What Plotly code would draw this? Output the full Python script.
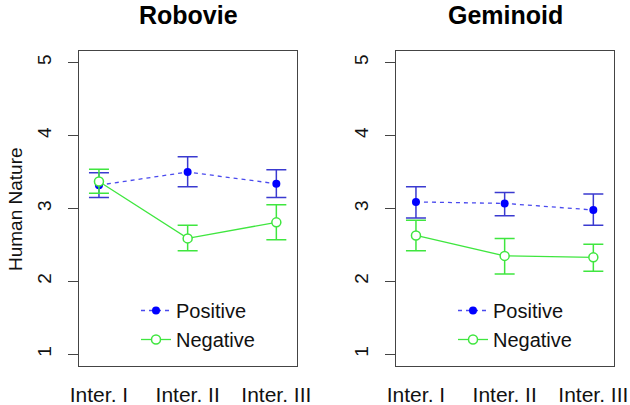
import plotly.graph_objects as go

categories = ["Inter. I", "Inter. II", "Inter. III"]
x_pos = [1, 2, 3]
y_ticks = [1, 2, 3, 4, 5]

panels = ["Robovie", "Geminoid"]
series_names = ["Positive", "Negative"]

robovie_pos = [3.32, 3.50, 3.34]
robovie_pos_hi = [3.49, 3.71, 3.53]
robovie_pos_lo = [3.15, 3.30, 3.15]
robovie_neg = [3.37, 2.59, 2.81]
robovie_neg_hi = [3.54, 2.77, 3.05]
robovie_neg_lo = [3.21, 2.42, 2.57]

geminoid_pos = [3.09, 3.07, 2.98]
geminoid_pos_hi = [3.30, 3.22, 3.20]
geminoid_pos_lo = [2.87, 2.90, 2.77]
geminoid_neg = [2.63, 2.35, 2.33]
geminoid_neg_hi = [2.84, 2.59, 2.51]
geminoid_neg_lo = [2.42, 2.10, 2.14]

W, H = 630, 405
BLUE = "#0000ff"
BLUE_ERR = "#3a3ad0"
BLUE_LINE = "#4a4aee"
GREEN = "#3fe63f"
FONT = "Liberation Sans, Arial, sans-serif"

fig = go.Figure()

data = [
    (robovie_pos, robovie_pos_hi, robovie_pos_lo, robovie_neg, robovie_neg_hi, robovie_neg_lo),
    (geminoid_pos, geminoid_pos_hi, geminoid_pos_lo, geminoid_neg, geminoid_neg_hi, geminoid_neg_lo),
]

for i, (pos, pos_hi, pos_lo, neg, neg_hi, neg_lo) in enumerate(data):
    xa = "x" if i == 0 else "x2"
    ya = "y" if i == 0 else "y2"
    lg = "legend" if i == 0 else "legend2"
    fig.add_trace(go.Scatter(
        x=x_pos, y=pos, xaxis=xa, yaxis=ya, legend=lg, name=series_names[0],
        mode="lines+markers",
        line=dict(color=BLUE_LINE, width=1.3, dash="4px,4px"),
        marker=dict(color=BLUE, size=8, symbol="circle", line=dict(width=0)),
        error_y=dict(type="data", symmetric=False,
                     array=[h - v for h, v in zip(pos_hi, pos)],
                     arrayminus=[v - l for v, l in zip(pos, pos_lo)],
                     color=BLUE_ERR, thickness=1.5, width=10),
    ))
    fig.add_trace(go.Scatter(
        x=x_pos, y=neg, xaxis=xa, yaxis=ya, legend=lg, name=series_names[1],
        mode="lines+markers",
        line=dict(color=GREEN, width=1.3),
        marker=dict(color="white", size=9, symbol="circle", line=dict(color=GREEN, width=1.5)),
        error_y=dict(type="data", symmetric=False,
                     array=[h - v for h, v in zip(neg_hi, neg)],
                     arrayminus=[v - l for v, l in zip(neg, neg_lo)],
                     color=GREEN, thickness=1.5, width=10),
    ))

def px_x(p):
    return p / W

def px_y(p):
    return 1 - p / H

xdoms = [[px_x(79), px_x(297)], [px_x(396), px_x(614)]]
ydom = [px_y(366), px_y(51)]

axis_common = dict(
    showline=True, mirror=True, linecolor="#444", linewidth=1,
    showgrid=False, zeroline=False, automargin=False,
)

for i in range(2):
    sfx = "" if i == 0 else "2"
    fig.update_layout(**{
        "xaxis" + sfx: dict(
            domain=xdoms[i], range=[0.775, 3.233], anchor="y" + sfx,
            tickmode="array", tickvals=x_pos, ticktext=categories,
            ticks="", ticklen=0, ticklabelstandoff=10,
            tickfont=dict(family=FONT, size=21, color="#111"),
            **axis_common),
        "yaxis" + sfx: dict(
            domain=ydom, range=[0.84, 5.16], anchor="x" + sfx,
            tickmode="array", tickvals=y_ticks, ticktext=[str(v) for v in y_ticks],
            ticks="outside", ticklen=10, tickcolor="#444", tickangle=-90,
            ticklabelstandoff=9,
            tickfont=dict(family=FONT, size=19, color="#111"),
            **axis_common),
    })

annotations = []
centers = [188, 505]
for i, name in enumerate(panels):
    annotations.append(dict(
        text="<b>" + name + "</b>", x=px_x(centers[i]), y=px_y(15),
        xref="paper", yref="paper", xanchor="center", yanchor="middle",
        showarrow=False, font=dict(family=FONT, size=25, color="#000")))
annotations.append(dict(
    text="Human Nature", x=px_x(15), y=px_y(209), textangle=-90,
    xref="paper", yref="paper", xanchor="center", yanchor="middle",
    showarrow=False, font=dict(family=FONT, size=19, color="#111")))

legend_common = dict(
    xanchor="left", yanchor="top", bgcolor="rgba(0,0,0,0)",
    font=dict(family=FONT, size=20, color="#111"),
    itemwidth=30, tracegroupgap=0,
)

fig.update_layout(
    width=W, height=H,
    margin=dict(l=0, r=0, t=0, b=0),
    paper_bgcolor="white", plot_bgcolor="white",
    showlegend=True,
    legend=dict(x=px_x(136), y=px_y(291), **legend_common),
    legend2=dict(x=px_x(453), y=px_y(291), **legend_common),
    annotations=annotations,
)

fig.write_html("out.html",
               config={"displayModeBar": False},
               post_script="document.body.style.margin='0';document.body.style.padding='0';")
